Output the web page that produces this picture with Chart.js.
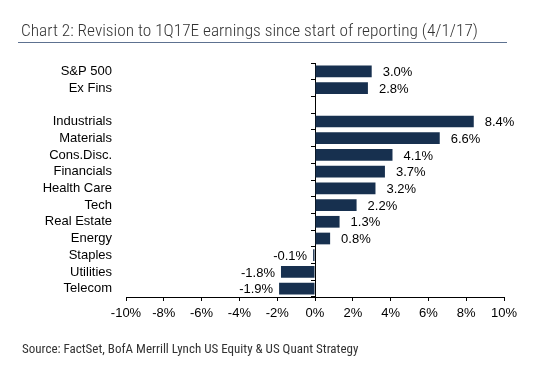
<!DOCTYPE html>
<html>
<head>
<meta charset="utf-8">
<script src="https://cdn.jsdelivr.net/npm/chart.js@4"></script>
<style>
  html, body { margin: 0; padding: 0; background: #fff; }
  #wrap { position: relative; width: 555px; height: 382px; overflow: hidden; }
  #title {
    position: absolute; left: 18px; top: 20px; width: 486px; height: 22px;
    font-family: "Roboto Condensed", sans-serif; font-weight: 300;
    font-size: 17.3px; color: #333; line-height: 20px;
    padding-left: 3px; white-space: nowrap;
    border-bottom: 1px solid #5d7190;
  }
  #source {
    position: absolute; left: 22px; top: 341px;
    font-family: "Roboto Condensed", sans-serif;
    font-size: 13px; color: #333; white-space: nowrap;
  }
  canvas { position: absolute; left: 0; top: 0; }
</style>
</head>
<body>
<div id="wrap">
  <canvas id="chart" width="555" height="382"></canvas>
  <div id="title">Chart 2: Revision to 1Q17E earnings since start of reporting (4/1/17)</div>
  <div id="source">Source: FactSet, BofA Merrill Lynch US Equity &amp; US Quant Strategy</div>
</div>
<script>
// Dane wykresu
var categories = ["S&P 500", "Ex Fins", "", "Industrials", "Materials", "Cons.Disc.",
  "Financials", "Health Care", "Tech", "Real Estate", "Energy", "Staples", "Utilities", "Telecom"];
var revisions = [3.0, 2.8, null, 8.4, 6.6, 4.1, 3.7, 3.2, 2.2, 1.3, 0.8, -0.1, -1.8, -1.9];
var xTicks = [-10, -8, -6, -4, -2, 0, 2, 4, 6, 8, 10];

var barColor = "#17304f";
var fontFamily = "'Liberation Sans', Arial, sans-serif";

// Etykiety z wartosciami obok slupkow
var valueLabels = {
  id: "valueLabels",
  afterDatasetsDraw: function (chart) {
    var ctx = chart.ctx;
    var meta = chart.getDatasetMeta(0);
    ctx.save();
    ctx.font = "13px " + fontFamily;
    ctx.fillStyle = "#000";
    ctx.textBaseline = "middle";
    meta.data.forEach(function (bar, i) {
      var v = revisions[i];
      if (v === null) return;
      var txt = v.toFixed(1) + "%";
      if (v >= 0) {
        ctx.textAlign = "left";
        ctx.fillText(txt, bar.x + 11, bar.y + 1);
      } else {
        ctx.textAlign = "right";
        ctx.fillText(txt, bar.x - 6, bar.y + 1);
      }
    });
    ctx.restore();
  }
};

var ctx = document.getElementById("chart").getContext("2d");
new Chart(ctx, {
  type: "bar",
  data: {
    labels: categories,
    datasets: [{
      data: revisions,
      backgroundColor: barColor,
      borderWidth: 0,
      barPercentage: 0.7,
      categoryPercentage: 1.0
    }]
  },
  options: {
    indexAxis: "y",
    responsive: false,
    animation: false,
    layout: { padding: { left: 0, right: 51, top: 63, bottom: 55 } },
    plugins: { legend: { display: false }, tooltip: { enabled: false } },
    scales: {
      x: {
        type: "linear",
        min: -10, max: 10,
        afterBuildTicks: function (s) {
          s.ticks = xTicks.map(function (v) { return { value: v }; });
        },
        afterFit: function (s) { s.height = 30; },
        grid: { drawOnChartArea: false, tickLength: 4, color: "#000" },
        border: { color: "#000", width: 1 },
        ticks: {
          padding: 5,
          color: "#000",
          maxRotation: 0,
          autoSkip: false,
          font: { family: fontFamily, size: 13 },
          callback: function (v) { return v + "%"; }
        }
      },
      y: {
        type: "category",
        offset: true,
        afterFit: function (s) { s.width = 126; },
        grid: { display: false, drawTicks: false },
        border: { display: false },
        ticks: {
          padding: 14,
          color: "#000",
          autoSkip: false,
          font: { family: fontFamily, size: 13 }
        }
      },
      y2: {
        type: "category",
        axis: "y",
        labels: categories,
        position: { x: 0 },
        offset: true,
        grid: { offset: true, drawOnChartArea: false, tickLength: 4, color: "#000" },
        border: { color: "#000", width: 1 },
        ticks: { display: false, autoSkip: false }
      }
    }
  },
  plugins: [valueLabels]
});
</script>
</body>
</html>
